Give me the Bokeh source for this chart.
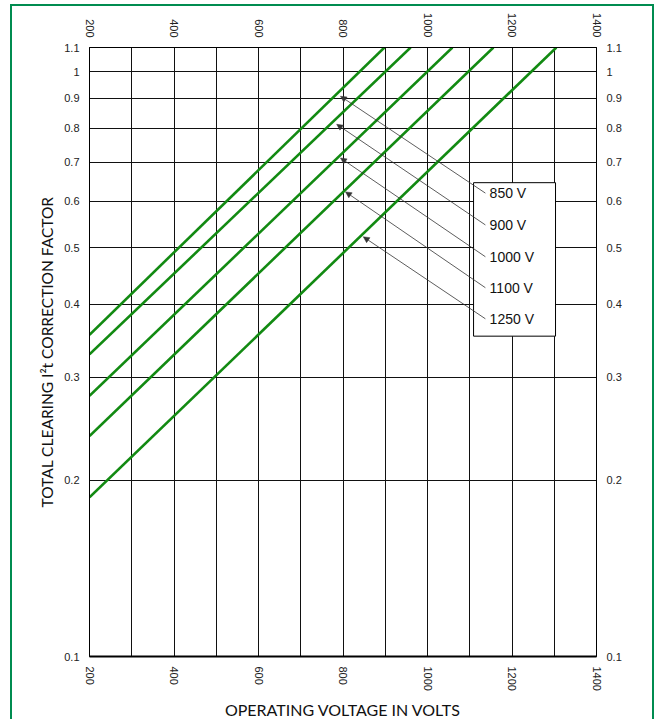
import math
from bokeh.plotting import figure
from bokeh.models import (LinearAxis, LogAxis, FixedTicker, CustomJSTickFormatter,
                          Arrow, NormalHead, Range1d, ColumnDataSource)
from bokeh.core.properties import value
from bokeh.embed import file_html
from bokeh.resources import INLINE

# ---- data ----
rated_labels = ["850 V", "900 V", "1000 V", "1100 V", "1250 V"]
line_v_start = [200, 200, 200, 200, 200]
line_f_start = [0.355, 0.3285, 0.279, 0.2383, 0.1871]
line_v_end = [898, 960, 1059, 1156, 1305]
line_f_end = [1.1, 1.1, 1.1, 1.1, 1.1]

arrow_tip_v = [794, 785, 794, 806, 848]
arrow_tip_f = [0.908, 0.813, 0.712, 0.623, 0.522]
label_v = [1137, 1137, 1137, 1137, 1137]
label_text_v = [1147, 1147, 1147, 1147, 1147]
label_f = [0.620, 0.547, 0.4826, 0.4272, 0.378]

box_left, box_right, box_top, box_bottom = 1109, 1303, 0.646, 0.353

x_ticks = [200, 400, 600, 800, 1000, 1200, 1400]
x_grid = [200, 300, 400, 500, 600, 700, 800, 900, 1000, 1100, 1200, 1300, 1400]
y_ticks = [0.1, 0.2, 0.3, 0.4, 0.5, 0.6, 0.7, 0.8, 0.9, 1.0, 1.1]

GREEN = "#128a12"
TICK_FONT = "Liberation Sans"
TITLE_FONT = "Lato"

p = figure(width=644, height=715, x_range=Range1d(200, 1400), y_range=Range1d(0.1, 1.1),
           y_axis_type="log", output_backend="svg", toolbar_location=None,
           min_border_left=77, min_border_right=60, min_border_top=41, min_border_bottom=63)
p.styles = {"margin-left": "10px", "margin-top": "4px",
            "border-left": "2px solid #008c50", "border-top": "2px solid #008c50",
            "border-right": "2px solid #008c50"}
p.outline_line_color = "black"
p.outline_line_width = 1
p.background_fill_color = "white"
p.border_fill_color = "white"

xt = FixedTicker(ticks=x_ticks, minor_ticks=[])
yt = FixedTicker(ticks=y_ticks, minor_ticks=[])

def style_axis(ax, standoff=10):
    ax.major_tick_in = 0
    ax.major_tick_out = 0
    ax.minor_tick_in = 0
    ax.minor_tick_out = 0
    ax.major_label_standoff = standoff
    ax.major_label_text_font = TICK_FONT
    ax.major_label_text_font_size = "11px"
    ax.major_label_text_color = "#222222"
    ax.axis_line_color = "black"

# bottom axis
xa = p.xaxis[0]
xa.ticker = xt
xa.major_label_orientation = -math.pi / 2
style_axis(xa)
xa.axis_line_width = 2
xa.axis_label = "OPERATING VOLTAGE IN VOLTS"
xa.axis_label_text_font = TITLE_FONT
xa.axis_label_text_font_size = "16px"
xa.axis_label_text_font_style = "normal"
xa.axis_label_text_color = "#111111"
xa.axis_label_standoff = 6

# top axis
xtop = LinearAxis(ticker=FixedTicker(ticks=x_ticks, minor_ticks=[]))
xtop.major_label_orientation = -math.pi / 2
style_axis(xtop)
p.add_layout(xtop, "above")

# left axis
ya = p.yaxis[0]
ya.ticker = yt
ya.formatter = CustomJSTickFormatter(code="return String(Math.round(tick*10)/10);")
style_axis(ya)
ya.axis_label = "TOTAL CLEARING I\u00b2t CORRECTION FACTOR"
ya.axis_label_text_font = TITLE_FONT
ya.axis_label_text_font_size = "15.5px"
ya.axis_label_text_font_style = "normal"
ya.axis_label_text_color = "#111111"
ya.axis_label_standoff = 5

# right axis
yr = LogAxis(ticker=FixedTicker(ticks=y_ticks, minor_ticks=[]),
             formatter=CustomJSTickFormatter(code="return String(Math.round(tick*10)/10);"))
style_axis(yr)
p.add_layout(yr, "right")

# grids
p.xgrid.ticker = FixedTicker(ticks=x_grid, minor_ticks=[])
p.ygrid.ticker = FixedTicker(ticks=y_ticks, minor_ticks=[])
for g in (p.xgrid[0], p.ygrid[0]):
    g.grid_line_color = "#111111"
    g.grid_line_width = 1
    g.grid_line_alpha = 1.0

# green correction lines
for xs, ys, xe, ye in zip(line_v_start, line_f_start, line_v_end, line_f_end):
    p.line([xs, xe], [ys, ye], line_color=GREEN, line_width=2.6)

# label box
p.quad(left=[box_left], right=[box_right], top=[box_top], bottom=[box_bottom],
       fill_color="white", line_color="black", line_width=1)

# leader arrows
asrc = ColumnDataSource(dict(xs=label_v, ys=label_f, xe=arrow_tip_v, ye=arrow_tip_f))
p.add_layout(Arrow(x_start="xs", y_start="ys", x_end="xe", y_end="ye", source=asrc,
                   line_color="#333333", line_width=0.8,
                   end=NormalHead(size=6, fill_color="#333333", line_color="#333333", line_width=0.5)))

p.text(x=label_text_v, y=label_f, text=rated_labels, text_baseline="middle", text_align="left",
       text_font=value(TICK_FONT), text_font_size="14px", text_color="#111111")

open("out.html", "w").write(file_html(p, INLINE))
